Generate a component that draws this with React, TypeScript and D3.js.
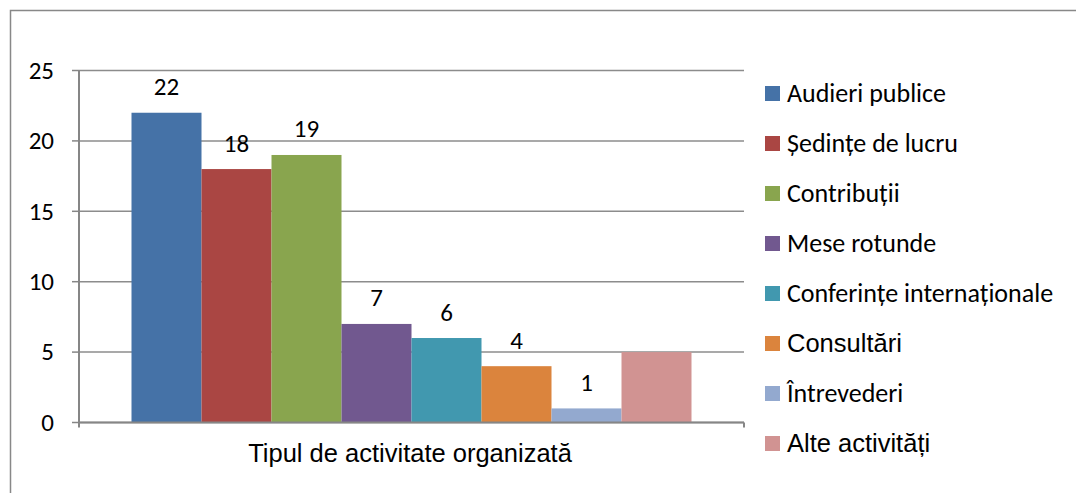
import React from 'react';
import * as d3 from 'd3';

const categories = [
  'Audieri publice',
  'Ședințe de lucru',
  'Contribuții',
  'Mese rotunde',
  'Conferințe internaționale',
  'Consultări',
  'Întrevederi',
  'Alte activități',
];
const values = [22, 18, 19, 7, 6, 4, 1, 5];
const showLabel = [true, true, true, true, true, true, true, false];
const colors = ['#4572A7', '#AA4643', '#89A54E', '#71588F', '#4198AF', '#DB843D', '#93A9CF', '#D19392'];
// some legend entries were typed in Arial in the original, the rest in Calibri
const legendArial = [false, false, false, false, false, true, false, true];
const yTicks = [0, 5, 10, 15, 20, 25];
const axisTitle = 'Tipul de activitate organizată';

const W = 1076;
const H = 493;
const calibri = 'Calibri, Carlito, Lato, sans-serif';
const arial = 'Arial, "Liberation Sans", sans-serif';

const App: React.FC = () => {
  const plot = { left: 79, right: 744, top: 70.5, bottom: 422.5 };

  const y = d3.scaleLinear().domain([0, 25]).range([plot.bottom, plot.top]);
  const x = d3
    .scaleBand<string>()
    .domain(categories)
    .range([plot.left + 52.5, plot.right - 52.5])
    .padding(0);

  const legendY = d3.scalePoint<string>().domain(categories).range([93, 443]);

  return (
    <svg width={W} height={H} style={{ position: 'absolute', left: 0, top: 0, background: '#fff' }}>
      <rect x={10.5} y={10.5} width={1200} height={600} fill="#fff" stroke="#888" strokeWidth={1.5} />

      {/* gridlines */}
      {yTicks.map((t) => (
        <line key={'g' + t} x1={plot.left} x2={plot.right} y1={y(t)} y2={y(t)} stroke="#8c8c8c" strokeWidth={1.5} />
      ))}

      {/* bars */}
      {categories.map((c, i) => (
        <rect key={c} x={x(c)} y={y(values[i])} width={x.bandwidth()} height={y(0) - y(values[i])} fill={colors[i]} />
      ))}

      {/* axes */}
      <line x1={plot.left} x2={plot.left} y1={plot.top} y2={plot.bottom + 5} stroke="#868686" strokeWidth={2} />
      <line x1={plot.left} x2={plot.right} y1={plot.bottom} y2={plot.bottom} stroke="#868686" strokeWidth={2} />
      <line x1={plot.right} x2={plot.right} y1={plot.bottom} y2={plot.bottom + 5} stroke="#868686" strokeWidth={2} />
      {yTicks.map((t) => (
        <g key={'t' + t}>
          <line x1={plot.left - 7} x2={plot.left} y1={y(t)} y2={y(t)} stroke="#868686" strokeWidth={1.5} />
          <text x={54} y={y(t)} dy="0.33em" textAnchor="end" fontFamily={calibri} fontSize={25} fill="#000">
            {t}
          </text>
        </g>
      ))}

      {/* data labels */}
      {categories.map((c, i) =>
        showLabel[i] ? (
          <text
            key={'l' + c}
            x={(x(c) ?? 0) + x.bandwidth() / 2}
            y={y(values[i]) - 17.5}
            textAnchor="middle"
            fontFamily={calibri}
            fontSize={25}
            fill="#000"
          >
            {values[i]}
          </text>
        ) : null
      )}

      <text x={410} y={462} textAnchor="middle" fontFamily={arial} fontSize={25.5} fill="#000">
        {axisTitle}
      </text>

      {/* legend */}
      {categories.map((c, i) => (
        <g key={'lg' + c} transform={`translate(765,${legendY(c)})`}>
          <rect x={0} y={-7} width={15} height={15} fill={colors[i]} />
          <text
            x={22}
            y={0}
            dy="0.35em"
            fontFamily={legendArial[i] ? arial : calibri}
            fontSize={legendArial[i] ? 25.5 : 26}
            fill="#000"
          >
            {c}
          </text>
        </g>
      ))}
    </svg>
  );
};

export default App;
